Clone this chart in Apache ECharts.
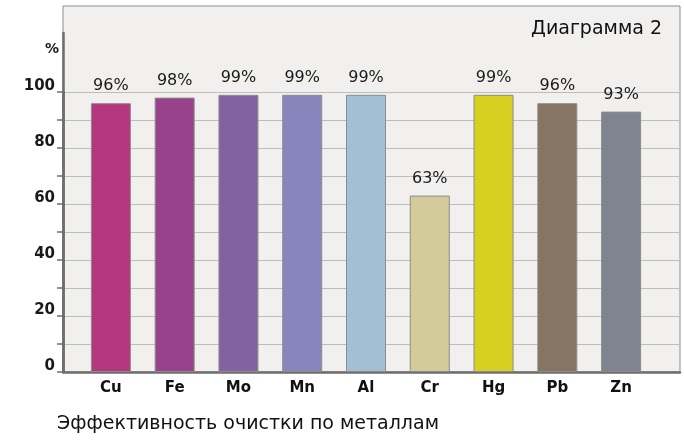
<!DOCTYPE html>
<html>
<head>
<meta charset="utf-8">
<script src="https://cdn.jsdelivr.net/npm/echarts@6/dist/echarts.min.js"></script>
<style>
  html, body { margin: 0; padding: 0; background: #fff; }
  #main { width: 684px; height: 442px; }
</style>
</head>
<body>
<div id="main"></div>
<script>
// Эффективность очистки по металлам
var metals = ['Cu', 'Fe', 'Mo', 'Mn', 'Al', 'Cr', 'Hg', 'Pb', 'Zn'];
var efficiency = [96, 98, 99, 99, 99, 63, 99, 96, 93];
var barColors = ['#b5377f', '#98428c', '#8462a2', '#8686bc', '#a2bfd3', '#d3cc9a', '#d8d020', '#857562', '#7f8490'];
var yTicks = [0, 20, 40, 60, 80, 100];

var FONT = 'DejaVu Sans, Liberation Sans, sans-serif';
var AXIS_DARK = '#6e6e6e';

var chart = echarts.init(document.getElementById('main'));

var option = {
    animation: false,
    textStyle: { fontFamily: FONT },
    title: [
        {
            text: 'Диаграмма 2',
            right: 17, top: 15,
            textStyle: { fontSize: 19, fontWeight: 'normal', color: '#111', fontFamily: FONT }
        },
        {
            text: '%',
            left: 40, top: 37,
            textStyle: { fontSize: 14, fontWeight: 'bold', color: '#1a1a1a', fontFamily: FONT }
        },
        {
            text: 'Эффективность очистки по металлам',
            left: 52, top: 410,
            textStyle: { fontSize: 19, fontWeight: 'normal', color: '#111', fontFamily: FONT }
        }
    ],
    grid: [
        // рамка с фоном
        { left: 63, right: 4, top: 6, bottom: 70, show: true, backgroundColor: '#f1f0ef', borderColor: '#8e8e8e', borderWidth: 1 },
        // шкала и сетка
        { left: 63, right: 4, top: 92, bottom: 70 },
        // столбцы
        { left: 79, right: 31, top: 92, bottom: 70 },
        // продолжение оси вверх
        { left: 63, right: 4, top: 33, bottom: 70 }
    ],
    xAxis: [
        { gridIndex: 0, type: 'value', show: false },
        {
            gridIndex: 1, type: 'value', min: 0, max: 1,
            axisLine: { show: true, lineStyle: { color: AXIS_DARK, width: 2.5 } },
            axisTick: { show: false }, axisLabel: { show: false }, splitLine: { show: false }
        },
        {
            gridIndex: 2, type: 'category', data: metals,
            axisLine: { show: false }, axisTick: { show: false },
            axisLabel: { fontSize: 15, fontWeight: 'bold', color: '#111', margin: 9, fontFamily: FONT }
        },
        { gridIndex: 3, type: 'value', show: false }
    ],
    yAxis: [
        { gridIndex: 0, type: 'value', show: false },
        {
            gridIndex: 1, type: 'value', min: 0, max: 100, interval: 10,
            axisLine: { show: true, lineStyle: { color: AXIS_DARK, width: 2.5 } },
            axisTick: { show: true, length: 6, lineStyle: { color: AXIS_DARK, width: 1.5 } },
            axisLabel: {
                margin: 8, fontSize: 15, fontWeight: 'bold', color: '#1a1a1a', fontFamily: FONT,
                verticalAlign: 'bottom', lineHeight: 12,
                formatter: function (v) { return yTicks.indexOf(v) >= 0 ? String(v) : ''; }
            },
            splitLine: { show: true, lineStyle: { color: '#bdbdbd', width: 1 } }
        },
        { gridIndex: 2, type: 'value', min: 0, max: 100, show: false },
        {
            gridIndex: 3, type: 'value', min: 0, max: 1,
            axisLine: { show: true, lineStyle: { color: AXIS_DARK, width: 2.5 } },
            axisTick: { show: false }, axisLabel: { show: false }, splitLine: { show: false }
        }
    ],
    series: [
        {
            type: 'bar',
            xAxisIndex: 2, yAxisIndex: 2,
            barWidth: 40,
            data: efficiency.map(function (v, i) {
                return { value: v, itemStyle: { color: barColors[i] } };
            }),
            itemStyle: { borderColor: '#8c8c8c', borderWidth: 1 },
            label: {
                show: true, position: 'top', distance: 9,
                formatter: '{c}%',
                fontSize: 16, color: '#1a1a1a', fontFamily: FONT
            }
        }
    ]
};

chart.setOption(option);
window.addEventListener('resize', function () { chart.resize(); });
</script>
</body>
</html>
